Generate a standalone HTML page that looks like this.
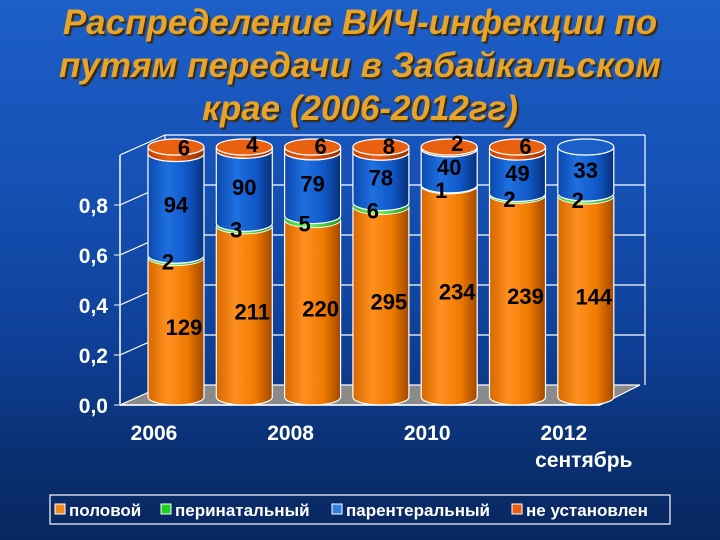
<!DOCTYPE html>
<html><head><meta charset="utf-8">
<style>
html,body{margin:0;padding:0}
body{width:720px;height:540px;overflow:hidden;position:relative;
background:linear-gradient(180deg,#1d5fc8 0%,#1550b4 35%,#0e3f95 65%,#0a2f70 85%,#082760 100%);
font-family:"Liberation Sans",sans-serif}
.title{position:absolute;left:0;top:1px;width:720px;text-align:center;color:#e8a428;font-weight:bold;font-style:italic;font-size:35px;line-height:43px;text-shadow:2px 2px 1px #3a2a10}
svg{position:absolute;left:0;top:0}
</style></head><body>
<div class="title">Распределение ВИЧ-инфекции по<br>путям передачи в Забайкальском<br>крае (2006-2012гг)</div>
<svg id="chart" width="720" height="540">
<defs>
<linearGradient id="gO" x1="0" x2="1"><stop offset="0" stop-color="#d86800"/><stop offset="0.35" stop-color="#ff9020"/><stop offset="0.7" stop-color="#f07a00"/><stop offset="1" stop-color="#a04800"/></linearGradient>
<linearGradient id="gB" x1="0" x2="1"><stop offset="0" stop-color="#0a48b0"/><stop offset="0.35" stop-color="#1e70e0"/><stop offset="0.7" stop-color="#1058c8"/><stop offset="1" stop-color="#06307a"/></linearGradient>
<linearGradient id="gG" x1="0" x2="1"><stop offset="0" stop-color="#30c030"/><stop offset="0.4" stop-color="#80ff60"/><stop offset="1" stop-color="#209020"/></linearGradient>
<linearGradient id="gR" x1="0" x2="1"><stop offset="0" stop-color="#c04000"/><stop offset="0.4" stop-color="#f06010"/><stop offset="1" stop-color="#903000"/></linearGradient>
</defs>
</svg>
<script>
const categories=["2006","2007","2008","2009","2010","2011","2012"];
const sexual=[129,211,220,295,234,239,144];
const perinatal=[2,3,5,6,1,2,2];
const parenteral=[94,90,79,78,40,49,33];
const unknown=[6,4,6,8,2,6,0];
const yTicks=[0,0.2,0.4,0.6,0.8];
const yTickLabels=["0,0","0,2","0,4","0,6","0,8"];
const xLabels=["2006","2008","2010","2012"];
const xLabelIdx=[0,2,4,6];

const NS="http://www.w3.org/2000/svg";
const svg=document.getElementById('chart');
function el(t,a,p){const e=document.createElementNS(NS,t);for(const k in a)e.setAttribute(k,a[k]);(p||svg).appendChild(e);return e;}
const y0=405,H=250,dx=45,dy=-20;
function Y(v){return y0-v*H;}
function YB(v){return 397-v*H;}
function X(i){return 176+i*68.3;}
const bw=56,ry=8;

const g=el('g',{});


el('polygon',{points:`120,${y0} ${120+dx},${y0+dy} ${640},${y0+dy} ${600},${y0}`,fill:'#8a8a8a',stroke:'#fff','stroke-width':1.2},g);
el('line',{x1:120+dx,y1:Y(1)+dy,x2:120+dx,y2:y0+dy,stroke:'#fff','stroke-width':1.2},g);
el('line',{x1:120+dx,y1:Y(1)+dy,x2:645,y2:Y(1)+dy,stroke:'#fff','stroke-width':1.2},g);
el('line',{x1:645,y1:Y(1)+dy,x2:645,y2:y0+dy,stroke:'#fff','stroke-width':1.2},g);
el('line',{x1:120,y1:Y(1),x2:120+dx,y2:Y(1)+dy,stroke:'#fff','stroke-width':1.2},g);
el('line',{x1:120,y1:Y(1),x2:120,y2:y0,stroke:'#fff','stroke-width':1.5},g);
[0.2,0.4,0.6,0.8].forEach(v=>{
  const gl=el('polyline',{points:`120,${Y(v)} ${120+dx},${Y(v)+dy} 645,${Y(v)+dy}`,fill:'none',stroke:'#fff','stroke-width':1.2},g);
  
  
});
yTicks.forEach((v,i)=>{
  el('line',{x1:114,y1:Y(v),x2:120,y2:Y(v),stroke:'#fff'},g);
  const t=el('text',{x:108,y:Y(v)+8,'text-anchor':'end',fill:'#fff','font-size':21,'font-weight':'bold'},g);
  t.textContent=yTickLabels[i];
  
  
});
el('line',{x1:120,y1:y0,x2:600,y2:y0,stroke:'#fff','stroke-width':1.5},g);
xLabelIdx.forEach((ci,i)=>{
  const t=el('text',{x:X(ci)-22,y:440,'text-anchor':'middle',fill:'#fff','font-size':21,'font-weight':'bold'},g);
  t.textContent=xLabels[i];
  
  
});
const sep=el('text',{x:X(6)-2,y:467,'text-anchor':'middle',fill:'#fff','font-size':21,'font-weight':'bold'},g);
sep.textContent="сентябрь";



const series=[sexual,perinatal,parenteral,unknown];
const fills=['url(#gO)','url(#gG)','url(#gB)','url(#gR)'];
const tops=['#ff9a30','#90ff70','#1a60c8','#e86010'];
const names=['sexual','perinatal','parenteral','unknown'];
categories.forEach((c,i)=>{
  const total=series.reduce((s,a)=>s+a[i],0);
  const cx=X(i),xl=cx-bw/2;
  const bg=el('g',{});
  
  
  let acc=0,last=0;
  series.forEach((arr,k)=>{
    const v=arr[i]/total;if(v<=0)return;
    last=k;
    const yb=YB(acc),yt=YB(acc+v);
    const p=el('path',{d:`M${xl},${yt} L${xl},${yb} A${bw/2},${ry} 0 0 0 ${xl+bw},${yb} L${xl+bw},${yt} A${bw/2},${ry} 0 0 1 ${xl},${yt} Z`,fill:fills[k],stroke:'#fff','stroke-width':k==1?0.5:1.2},bg);
    
    
    acc+=v;
  });
  el('ellipse',{cx:cx,cy:YB(acc),rx:bw/2,ry:ry,fill:tops[last],stroke:'#fff','stroke-width':1.2},bg);
  acc=0;
  series.forEach((arr,k)=>{
    const v=arr[i]/total;
    let ly=YB(acc+v/2)+8;
    if(k==1)ly=YB(acc)+12;
    if(k==3)ly=YB(acc)+2;
    if(v>0||k!=3){
      const t=el('text',{x:cx+(k==0?8:k==1?-8:k==3?8:0),y:ly,'text-anchor':'middle',fill:'#000','font-size':22,'font-weight':'bold'},bg);
      t.textContent=arr[i];
      
      
    }
    acc+=v;
  });
});

const lg=el('g',{});


el('rect',{x:50,y:495,width:620,height:29,fill:'none',stroke:'#fff','stroke-width':1.2},lg);
const lnames=['половой','перинатальный','парентеральный','не установлен'];
const lcol=['#f08a20','#20d020','#3080e0','#e86010'];
const lx=[55,161,332,512];
lnames.forEach((n,k)=>{
  const e=el('g',{},lg);
  
  
  el('rect',{x:lx[k],y:504,width:10,height:10,fill:lcol[k],stroke:'#fff','stroke-width':1},e);
  const t=el('text',{x:lx[k]+14,y:516,fill:'#fff','font-size':17,'font-weight':'bold'},e);
  t.textContent=n;
});
</script>
</body></html>
